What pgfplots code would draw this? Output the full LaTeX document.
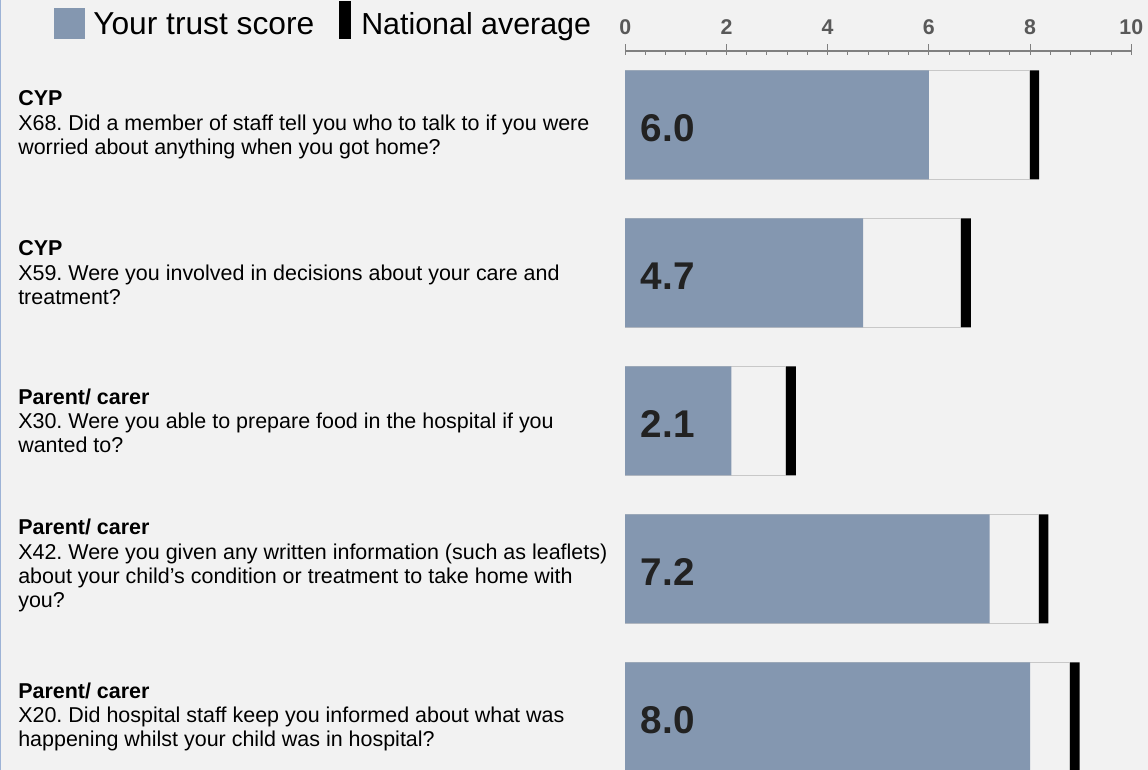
\documentclass[border=0pt]{standalone}
\usepackage{fontspec}
\setmainfont{Liberation Sans}
\usepackage{pgfplots}
\usepackage{pgfplotstable}
\pgfplotsset{compat=1.18}
\definecolor{bgc}{HTML}{F2F2F2}
\definecolor{trust}{HTML}{8497B0}
\definecolor{edgec}{HTML}{C8C8C8}
\definecolor{tickc}{HTML}{595959}
\definecolor{axc}{HTML}{808080}
\definecolor{valc}{HTML}{222222}
\definecolor{framec}{HTML}{9DB3D6}
\frenchspacing
\newcommand{\tl}[1]{{\fontsize{16}{17}\selectfont\bfseries #1}}

\pgfplotstableread{
y score nat
4 6.0 8.08
3 4.7 6.73
2 2.1 3.27
1 7.2 8.26
0 8.0 8.88
}\trustdata

\begin{document}
\begin{tikzpicture}
\fill[bgc] (0,0) rectangle (861pt,-577.5pt);
\useasboundingbox (0,0) rectangle (861pt,-577.5pt);
\draw[framec, line width=1.1pt] (0.5pt,0) -- (0.5pt,-577.5pt);
\begin{axis}[
  at={(468.9pt,-577.5pt)}, anchor=south west,
  scale only axis, width=379.6pt, height=539.25pt,
  xmin=0, xmax=10, ymin=-0.359, ymax=4.499,
  axis x line*=top, axis y line=none,
  x axis line style={axc, line width=1.3pt, -},
  xtick={0,2,4,6,8,10}, minor x tick num=4,
  xticklabels={\tl{0},\tl{2},\tl{4},\tl{6},\tl{8},\tl{10}},
  tick align=center,
  major tick length=8.25pt, minor tick length=3.2pt,
  every tick/.style={axc, line width=0.8pt},
  major x tick style={yshift=1.1pt},
  minor x tick style={yshift=-1.6pt},
  /pgf/number format/assume math mode=true,
  xticklabel style={text=tickc, yshift=4.5pt},
  clip=true,
]
\addplot[xbar, bar shift=0pt, bar width=0.736, fill=black, draw=none]
  table[x expr=\thisrow{nat}+0.1, y=y]{\trustdata};
\addplot[xbar, bar shift=0pt, bar width=0.736, fill=bgc, draw=edgec, line width=0.8pt]
  table[x expr=\thisrow{nat}-0.1, y=y]{\trustdata};
\addplot[xbar, bar shift=0pt, bar width=0.736, fill=trust, draw=none]
  table[x=score, y=y]{\trustdata};
\addplot[draw=none, mark=none, point meta=explicit,
  nodes near coords={\pgfmathprintnumber[fixed,fixed zerofill,precision=1]{\pgfplotspointmeta}},
  nodes near coords style={anchor=west, inner sep=0pt, xshift=11.5pt, yshift=-2.5pt,
    font=\bfseries\fontsize{29}{30}\selectfont, text=valc}]
  table[x expr=0, y=y, meta=score]{\trustdata};
\end{axis}
\begin{scope}[x=0.75pt,y=-0.75pt]
\fill[trust] (54,8) rectangle (85,39);
\fill[black] (339,1) rectangle (351,39);
\node[anchor=base west, inner sep=0pt, font=\fontsize{23.8}{26}\selectfont] at (93,34.3) {Your trust score};
\node[anchor=base west, inner sep=0pt, font=\fontsize{22.8}{26}\selectfont] at (361,34.3) {National average};
\tikzset{q/.style={anchor=west, align=left, inner sep=0pt, font=\fontsize{16.1}{18.2}\selectfont}}
\node[q] at (18,124.8) {\textbf{CYP}\\X68. Did a member of staff tell you who to talk to if you were\\worried about anything when you got home?};
\node[q] at (18,272.8) {\textbf{CYP}\\X59. Were you involved in decisions about your care and\\treatment?};
\node[q] at (18,420.8) {\textbf{Parent/ carer}\\X30. Were you able to prepare food in the hospital if you\\wanted to?};
\node[q] at (18,565.8) {\textbf{Parent/ carer}\\X42. Were you given any written information (such as leaflets)\\about your child’s condition or treatment to take home with\\you?};
\node[q] at (18,716.8) {\textbf{Parent/ carer}\\X20. Did hospital staff keep you informed about what was\\happening whilst your child was in hospital?};
\end{scope}
\end{tikzpicture}
\end{document}
